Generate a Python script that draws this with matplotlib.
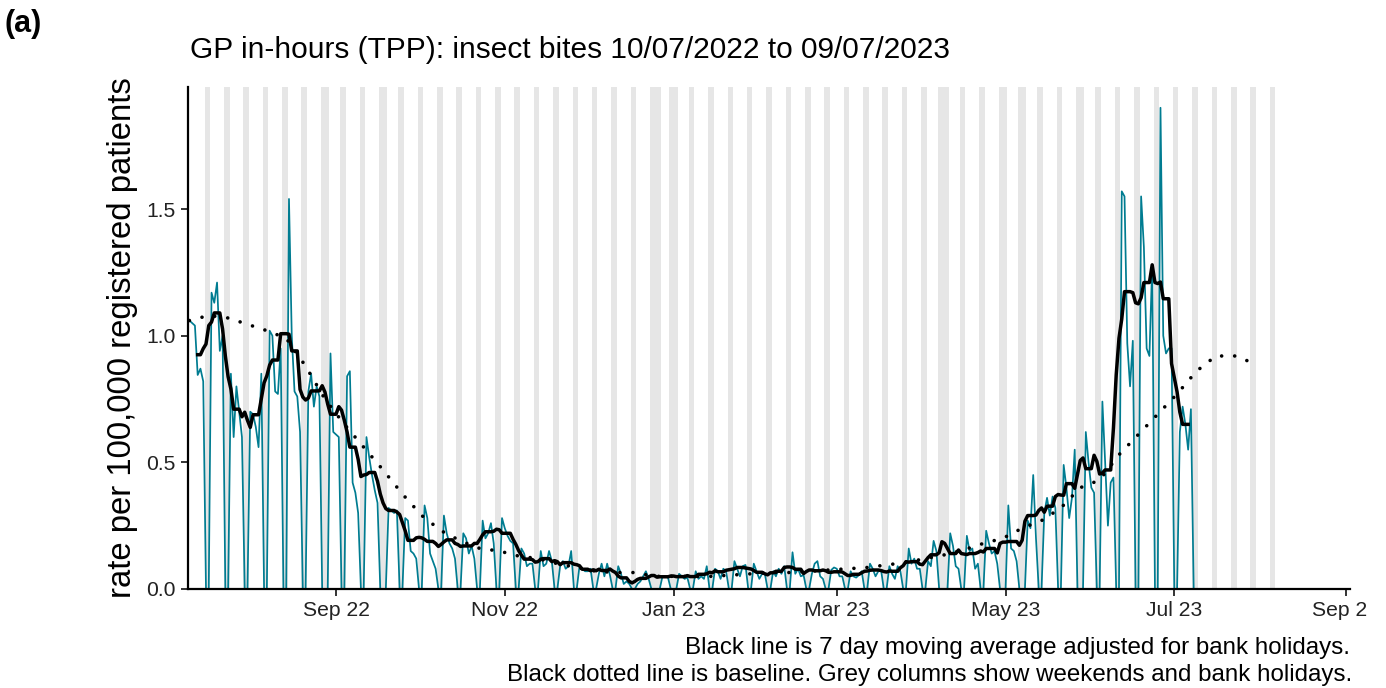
import numpy as np
import pandas as pd
import matplotlib
matplotlib.use("Agg")
import matplotlib.pyplot as plt
import matplotlib.dates as mdates
from matplotlib.transforms import Bbox

plt.rcParams["font.family"] = ["Liberation Sans", "DejaVu Sans"]

# ---------------------------------------------
# data: daily rate per 100,000 registered patients
# ---------------------------------------------
first_day = "2022-07-10"
first_day_rate = 1.06

# one row per week, Monday..Sunday, starting Mon 11/07/2022
weekly_rates = [
    [1.05, 1.04, 0.845, 0.87, 0.82, 0, 0],
    [1.17, 1.13, 1.21, 0.94, 1.00, 0, 0],
    [0.85, 0.60, 0.80, 0.70, 0.60, 0, 0],
    [0.70, 0.69, 0.64, 0.56, 0.85, 0, 0],
    [1.02, 1.00, 0.78, 0.77, 0.95, 0, 0],
    [1.54, 1.00, 0.78, 0.76, 0.62, 0, 0],
    [0.78, 0.85, 0.72, 0.80, 0.76, 0, 0],
    [0, 0.93, 0.62, 0.61, 0.60, 0, 0],
    [0.84, 0.86, 0.42, 0.38, 0.30, 0, 0],
    [0.60, 0.52, 0.45, 0.39, 0.34, 0, 0],
    [0, 0.32, 0.31, 0.30, 0.31, 0, 0],
    [0.28, 0.27, 0.15, 0.14, 0.12, 0, 0],
    [0.33, 0.28, 0.14, 0.11, 0.08, 0, 0],
    [0.29, 0.22, 0.18, 0.16, 0.12, 0, 0],
    [0.22, 0.20, 0.14, 0.17, 0.12, 0, 0],
    [0.27, 0.20, 0.22, 0.26, 0.18, 0, 0],
    [0.28, 0.24, 0.21, 0.19, 0.18, 0, 0],
    [0.16, 0.14, 0.09, 0.10, 0.10, 0, 0],
    [0.15, 0.09, 0.10, 0.15, 0.11, 0, 0],
    [0.09, 0.11, 0.08, 0.09, 0.15, 0, 0],
    [0.09, 0.08, 0.07, 0.07, 0.08, 0, 0],
    [0.06, 0.10, 0.05, 0.10, 0.055, 0, 0],
    [0.09, 0.06, 0.02, 0.03, 0.02, 0, 0],
    [0.02, 0.03, 0.05, 0.07, 0.04, 0, 0],
    [0, 0, 0.05, 0.05, 0.045, 0, 0],
    [0, 0.06, 0.05, 0.04, 0.045, 0, 0],
    [0.07, 0.04, 0.05, 0.04, 0.09, 0, 0],
    [0.08, 0.07, 0.04, 0.08, 0.07, 0, 0],
    [0.11, 0.08, 0.05, 0.09, 0.095, 0, 0],
    [0.10, 0.07, 0.04, 0.06, 0.06, 0, 0],
    [0.07, 0.05, 0.08, 0.06, 0.09, 0, 0],
    [0.145, 0.06, 0.08, 0.05, 0.055, 0, 0],
    [0.06, 0.10, 0.11, 0.05, 0.04, 0, 0],
    [0.075, 0.085, 0.08, 0.05, 0.05, 0, 0],
    [0.07, 0.05, 0.045, 0.055, 0.07, 0, 0],
    [0.10, 0.08, 0.05, 0.07, 0.075, 0, 0],
    [0.09, 0.06, 0.04, 0.09, 0.07, 0, 0],
    [0.16, 0.10, 0.12, 0.08, 0.08, 0, 0],
    [0.11, 0.09, 0.19, 0.15, 0, 0, 0],
    [0, 0.22, 0.17, 0.09, 0.08, 0, 0],
    [0.21, 0.15, 0.16, 0.08, 0.10, 0, 0],
    [0.23, 0.18, 0.14, 0.15, 0.10, 0, 0],
    [0, 0.33, 0.16, 0.15, 0.11, 0, 0],
    [0, 0.27, 0.24, 0.45, 0.20, 0, 0],
    [0.30, 0.36, 0.29, 0.365, 0.32, 0, 0],
    [0.49, 0.40, 0.28, 0.36, 0.55, 0, 0],
    [0, 0.62, 0.50, 0.40, 0.38, 0, 0],
    [0.74, 0.50, 0.25, 0.42, 0.44, 0, 0],
    [1.57, 1.55, 0.97, 0.80, 0.98, 0, 0],
    [1.55, 1.35, 0.95, 0.92, 1.28, 0, 0],
    [1.90, 1.00, 0.93, 0.95, 0.95, 0, 0],
    [0.62, 0.72, 0.65, 0.55, 0.71, 0, 0],
]

# weekly baseline, starting Sun 10/07/2022
baseline_rates = [
    1.06, 1.08, 1.07, 1.045, 1.02, 0.99, 0.88, 0.75, 0.65, 0.56,
    0.47, 0.375, 0.29, 0.23, 0.19, 0.16, 0.15, 0.13, 0.12, 0.10,
    0.085, 0.07, 0.065, 0.065, 0.05, 0.05, 0.05, 0.05, 0.055, 0.06,
    0.065, 0.065, 0.07, 0.075, 0.08, 0.085, 0.095, 0.105, 0.12, 0.135,
    0.155, 0.18, 0.20, 0.24, 0.27, 0.32, 0.40, 0.43, 0.53, 0.61,
    0.69, 0.77, 0.86, 0.92, 0.92, 0.89,
]

bank_holidays = [
    "2022-08-29", "2022-09-19", "2022-12-26", "2022-12-27", "2023-01-02",
    "2023-04-07", "2023-04-10", "2023-05-01", "2023-05-08", "2023-05-29",
]

x_ticks = ["2022-09-01", "2022-11-01", "2023-01-01", "2023-03-01",
           "2023-05-01", "2023-07-01", "2023-09-01"]

# ---------------------------------------------
# build daily series + 7 day moving average
# ---------------------------------------------
rates = [first_day_rate] + [v for week in weekly_rates for v in week]
dates = pd.date_range(first_day, periods=len(rates), freq="D")
df = pd.DataFrame({"rate": rates}, index=dates)

hols = pd.to_datetime(bank_holidays)
df["working"] = (df.index.dayofweek < 5) & ~df.index.isin(hols)

# centred 7 day window, averaged over working days only
work = df["rate"].where(df["working"])
df["ma7"] = work.rolling(7, center=True, min_periods=1).mean()
df.iloc[:3, df.columns.get_loc("ma7")] = np.nan
df.iloc[-3:, df.columns.get_loc("ma7")] = np.nan

base_dates = pd.date_range(first_day, periods=len(baseline_rates), freq="7D")

# grey columns: weekends + bank holidays, grouped into runs
shade = pd.date_range("2022-07-11", "2023-08-06", freq="D")
shade = shade[(shade.dayofweek >= 5) | shade.isin(hols)]
runs = []
for d in shade:
    if runs and (d - runs[-1][1]).days == 1:
        runs[-1][1] = d
    else:
        runs.append([d, d])

# ---------------------------------------------
# plot
# ---------------------------------------------
W, H = 1386, 688
fig = plt.figure(figsize=(W / 100, H / 100), dpi=100)
ax = fig.add_axes([188 / W, 1 - 589 / H, (1350 - 188) / W, (589 - 87) / H])

half = pd.Timedelta(hours=12)
for a, b in runs:
    ax.axvspan(a - half, b + half, color="#e6e6e6", lw=0, zorder=0)

ax.plot(df.index, df["rate"], color="#007C91", lw=1.25, zorder=2)
ax.plot(base_dates, baseline_rates, color="black", lw=2.6,
        linestyle=(0, (0.01, 3.6)), dash_capstyle="round", zorder=3)
ax.plot(df.index, df["ma7"], color="black", lw=2.5, zorder=4)

ax.set_xlim(pd.Timestamp("2022-07-09 12:00"), pd.Timestamp("2023-09-02 12:00"))
ax.set_ylim(0, 1.982)

ax.set_yticks([0, 0.5, 1.0, 1.5])
ax.set_yticklabels(["0.0", "0.5", "1.0", "1.5"])
ax.set_xticks(pd.to_datetime(x_ticks))
ax.xaxis.set_major_formatter(mdates.DateFormatter("%b %y"))

for side in ["top", "right"]:
    ax.spines[side].set_visible(False)
for side in ["left", "bottom"]:
    ax.spines[side].set_linewidth(1.6)
ax.tick_params(axis="both", direction="out", length=5, width=1.4,
               color="#333333", labelsize=15.2, labelcolor="#222222", pad=4)

ax.set_ylabel("rate per 100,000 registered patients", fontsize=23.7)
ax.yaxis.set_label_coords(-0.043, 0.5)

fig.text(190 / W, 1 - 50 / H, "GP in-hours (TPP): insect bites 10/07/2022 to 09/07/2023",
         fontsize=21.5, ha="left", va="center")
fig.text(4 / W, 1 - 24 / H, "(a)", fontsize=22, fontweight="bold", va="center")
fig.text(1350 / W, 1 - 648 / H,
         "Black line is 7 day moving average adjusted for bank holidays.",
         fontsize=17.4, ha="right", va="center")
fig.text(1352 / W, 1 - 675 / H,
         "Black dotted line is baseline. Grey columns show weekends and bank holidays.",
         fontsize=17.4, ha="right", va="center")

# last tick label runs off the panel edge
fig.canvas.draw()
clip = Bbox.from_extents(0, 0, 1367, H)
for lab in ax.get_xticklabels():
    lab.set_clip_on(True)
    lab.set_clip_box(clip)

fig.savefig("out.png", dpi=100)
